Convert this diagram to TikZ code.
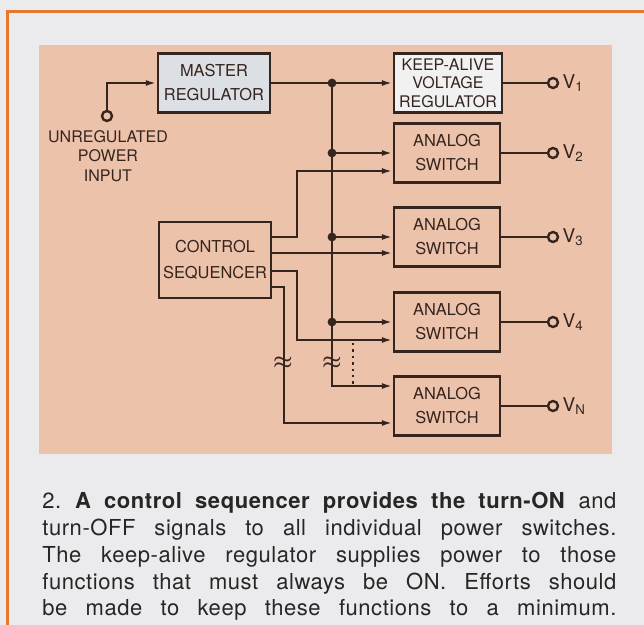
\documentclass[tikz,border=0pt]{standalone}
\usepackage{fontspec}
\setmainfont{TeX Gyre Heros}
\newfontfamily\capfont[LetterSpace=2.5]{TeX Gyre Heros}
\usepackage{tikz}
\usetikzlibrary{arrows.meta,positioning,calc}
\definecolor{ink}{HTML}{35251F}
\definecolor{panel}{HTML}{EDC2AB}
\definecolor{paper}{HTML}{EBEBED}
\definecolor{frame}{HTML}{E8782E}
\definecolor{mfill}{HTML}{DCDFE3}
\definecolor{kfill}{HTML}{F1F1F2}
\tikzset{
  blk/.style={draw=ink,line width=1.2pt,fill=panel,minimum width=53pt,minimum height=29.5pt,inner sep=1pt,align=center,text=ink,font=\fontsize{8.2}{12}\selectfont},
  wire/.style={draw=ink,line width=1.2pt},
  sig/.style={wire,-{Latex[length=5.5pt,width=3pt]}},
  term/.style={circle,draw=ink,line width=1.2pt,fill=panel,inner sep=0pt,minimum size=5pt},
  jn/.style={circle,fill=ink,inner sep=0pt,minimum size=4.4pt},
  brk/.style={inner sep=0pt,text=ink,font=\fontsize{11}{11}\selectfont\boldmath},
  lbl/.style={text=ink,inner sep=0pt,font=\fontsize{8}{9.75}\selectfont}
}
\newcommand{\vlab}[1]{V\textsubscript{#1}}

\begin{document}
\begin{tikzpicture}[x=0.5pt,y=-0.5pt]
\useasboundingbox (0,0) rectangle (644,625);
\fill[paper] (0,0) rectangle (644,625);
\draw[frame,line width=1.5pt] (7,625) -- (7,12) -- (644,12);
\fill[panel] (39,45) rectangle (612,454);

\node[blk,fill=mfill,minimum width=56pt] (mreg) at (214,83) {MASTER\\REGULATOR};
\node[blk,fill=kfill,minimum width=54pt,font=\fontsize{8}{9.3}\selectfont] (kreg) at (448,83) {KEEP-ALIVE\\VOLTAGE\\REGULATOR};
\node[blk] (sw1) at (447,153) {ANALOG\\SWITCH};
\node[blk] (sw2) at (447,237) {ANALOG\\SWITCH};
\node[blk] (sw3) at (447,322) {ANALOG\\SWITCH};
\node[blk] (sw4) at (447,406) {ANALOG\\SWITCH};
\node[blk,minimum width=56pt,minimum height=38pt,font=\fontsize{8.2}{13}\selectfont] (ctrl) at (215,260) {CONTROL\\SEQUENCER};

\node[term] (pin) at (107,116) {};
\node[lbl,align=center,anchor=north] (plbl) at (108,130) {UNREGULATED\\POWER\\INPUT};
\draw[sig] (pin.north) |- (mreg.west);

\coordinate (bus) at (332,83);
\draw[sig] (mreg.east) -- (kreg.west);
\draw[sig] (bus) |- ($(sw4.west)+(0,-20)$);
\node[jn] at (bus) {};
\foreach \s in {sw1,sw2,sw3}{
  \draw[sig] (bus |- \s.west) -- (\s.west);
  \node[jn] at (bus |- \s.west) {};
}

\draw[sig] ($(ctrl.east)+(0,-23)$) -- ++(25,0) |- ($(sw1.west)+(0,18)$);
\draw[sig] ($(ctrl.east)+(0,-7)$) -- ($(sw2.west)+(0,16)$);
\draw[sig] ($(ctrl.east)+(0,11)$) -- ++(25,0) |- ($(sw3.west)+(0,18)$);
\draw[sig] ($(ctrl.east)+(0,27)$) -- ++(12,0) |- ($(sw4.west)+(0,17)$);

\node[brk] (brk1) at (283,363) {$\approx$};
\node[brk] (brk2) at (332,363) {$\approx$};
\coordinate (dt0) at (353,343);
\draw[wire,dotted] (dt0) -- (dt0 |- {$(sw4.west)+(0,-20)$});

\coordinate (vx) at (553,0);
\foreach \s/\v in {kreg/1,sw1/2,sw2/3,sw3/4,sw4/N}{
  \node[term] (o\s) at (vx |- \s.east) {};
  \draw[wire] (\s.east) -- (o\s);
  \node[lbl,anchor=west,font=\fontsize{9.5}{9.5}\selectfont] (v\s) at ([xshift=1.5pt]o\s.east) {\vlab{\v}};
}

\node[anchor=north west,inner sep=0pt,text width=287pt,align=justify,text=black!85,font=\capfont\fontsize{11}{13.4}\selectfont] (cap) at (42,492)
  {\frenchspacing 2. \textbf{A control sequencer provides the turn-ON} and\linebreak
   turn-OFF signals to all individual power switches.\linebreak
   The keep-alive regulator supplies power to those\linebreak
   functions that must always be ON. Efforts should\linebreak
   be made to keep these functions to a minimum.\parfillskip=0pt\par};
\end{tikzpicture}
\end{document}
